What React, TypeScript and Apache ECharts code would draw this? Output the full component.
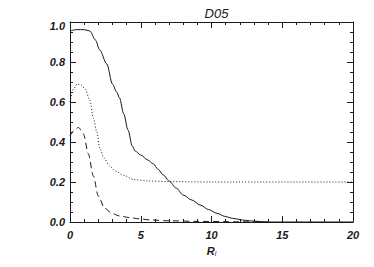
import React, { useEffect, useRef } from "react";
import * as echarts from "echarts";

const xTicks = [0, 5, 10, 15, 20];
const yTicks = [0.0, 0.2, 0.4, 0.6, 0.8, 1.0];

const solidSeries: [number, number][] = [
  [0, 0.955], [0.5, 0.962], [1, 0.962], [1.4, 0.955], [1.8, 0.91], [2.1, 0.86],
  [2.6, 0.79], [3.0, 0.69], [3.3, 0.65], [3.5, 0.62], [3.8, 0.54], [4.1, 0.46],
  [4.4, 0.38], [4.6, 0.355], [5.0, 0.335], [5.5, 0.31], [5.9, 0.29], [6.2, 0.265],
  [6.6, 0.235], [7.0, 0.205], [7.5, 0.17], [8.0, 0.135], [8.6, 0.11], [9.2, 0.085],
  [9.8, 0.062], [10.4, 0.043], [11.0, 0.027], [11.5, 0.018], [12.2, 0.01],
  [12.7, 0.006], [13.5, 0.002], [14.0, 0], [20, 0],
];

const dottedSeries: [number, number][] = [
  [0, 0.6], [0.25, 0.665], [0.5, 0.69], [0.8, 0.685], [1.06, 0.665], [1.4, 0.61],
  [1.65, 0.52], [1.9, 0.45], [2.1, 0.37], [2.4, 0.32], [2.8, 0.28], [3.2, 0.255],
  [3.8, 0.233], [4.5, 0.212], [5.5, 0.205], [7, 0.202], [10, 0.2], [20, 0.2],
];

const dashedSeries: [number, number][] = [
  [0, 0.43], [0.25, 0.455], [0.6, 0.473], [0.95, 0.44], [1.3, 0.34], [1.65, 0.23],
  [2.0, 0.13], [2.45, 0.068], [3.0, 0.042], [3.5, 0.03], [4.2, 0.022], [5, 0.015],
  [5.7, 0.01], [7, 0.006], [9, 0.003], [12, 0.001], [14, 0],
];

const FONT = "'Liberation Sans', Arial, Helvetica, sans-serif";
const INK = "#1a1a1a";

export default function App() {
  const ref = useRef<HTMLDivElement>(null);
  useEffect(() => {
    if (!ref.current) return;
    const chart = echarts.init(ref.current, null, { renderer: "svg" });
    const axisLine = { show: true, onZero: false, lineStyle: { color: INK, width: 1 } };
    const tick = { show: true, inside: true, length: 6, lineStyle: { color: INK, width: 1 } };
    const minorTick = { show: true, splitNumber: 5, length: 3, lineStyle: { color: INK, width: 1 } };
    const labelStyle = {
      fontFamily: FONT,
      fontSize: 11,
      fontStyle: "italic" as const,
      fontWeight: "bold" as const,
      color: INK,
    };
    const lineBase = { type: "line" as const, showSymbol: false, smooth: 0.3, smoothMonotone: "x" as const };
    chart.setOption({
      animation: false,
      backgroundColor: "#fff",
      title: {
        text: "D05",
        left: 211.5,
        textAlign: "center",
        top: 2,
        textStyle: { fontFamily: FONT, fontSize: 13, fontStyle: "italic", fontWeight: "normal", color: INK },
      },
      grid: { left: 70, right: 21, top: 22, bottom: 45 },
      xAxis: [
        {
          type: "value",
          position: "bottom",
          min: xTicks[0],
          max: xTicks[xTicks.length - 1],
          interval: 5,
          axisLine,
          axisTick: tick,
          minorTick,
          splitLine: { show: false },
          axisLabel: { ...labelStyle, margin: 7, formatter: (v: number) => String(v) },
          name: "{r|R}{s|i}",
          nameLocation: "middle",
          nameGap: 22,
          nameTextStyle: {
            rich: {
              r: { fontFamily: FONT, fontSize: 11, fontStyle: "italic", fontWeight: "bold", color: INK },
              s: { fontFamily: FONT, fontSize: 7, fontStyle: "italic", color: INK, padding: [6, 0, 0, 0] },
            },
          },
        },
        {
          type: "value",
          position: "top",
          min: xTicks[0],
          max: xTicks[xTicks.length - 1],
          interval: 5,
          axisLine,
          axisTick: tick,
          minorTick,
          splitLine: { show: false },
          axisLabel: { show: false },
        },
      ],
      yAxis: [
        {
          type: "value",
          position: "left",
          min: yTicks[0],
          max: yTicks[yTicks.length - 1],
          interval: 0.2,
          axisLine,
          axisTick: tick,
          minorTick: { ...minorTick, splitNumber: 4 },
          splitLine: { show: false },
          axisLabel: {
            ...labelStyle,
            margin: 5,
            formatter: (v: number) => (Math.abs(v - 1) < 1e-9 ? "{t|" + v.toFixed(1) + "}" : v.toFixed(1)),
            rich: {
              t: { ...labelStyle, padding: [8, 0, 0, 0] },
            },
          },
        },
        {
          type: "value",
          position: "right",
          min: yTicks[0],
          max: yTicks[yTicks.length - 1],
          interval: 0.2,
          axisLine,
          axisTick: tick,
          minorTick: { ...minorTick, splitNumber: 4 },
          splitLine: { show: false },
          axisLabel: { show: false },
        },
      ],
      series: [
        { ...lineBase, data: solidSeries, lineStyle: { color: INK, width: 1, type: "solid" } },
        { ...lineBase, data: dottedSeries, lineStyle: { color: INK, width: 1, type: [1, 2] } },
        { ...lineBase, data: dashedSeries, lineStyle: { color: INK, width: 1, type: [6, 4] } },
      ],
    });
    return () => chart.dispose();
  }, []);
  return (
    <div
      ref={ref}
      style={{ position: "fixed", left: 0, top: 0, width: 374, height: 267, background: "#fff" }}
    />
  );
}
